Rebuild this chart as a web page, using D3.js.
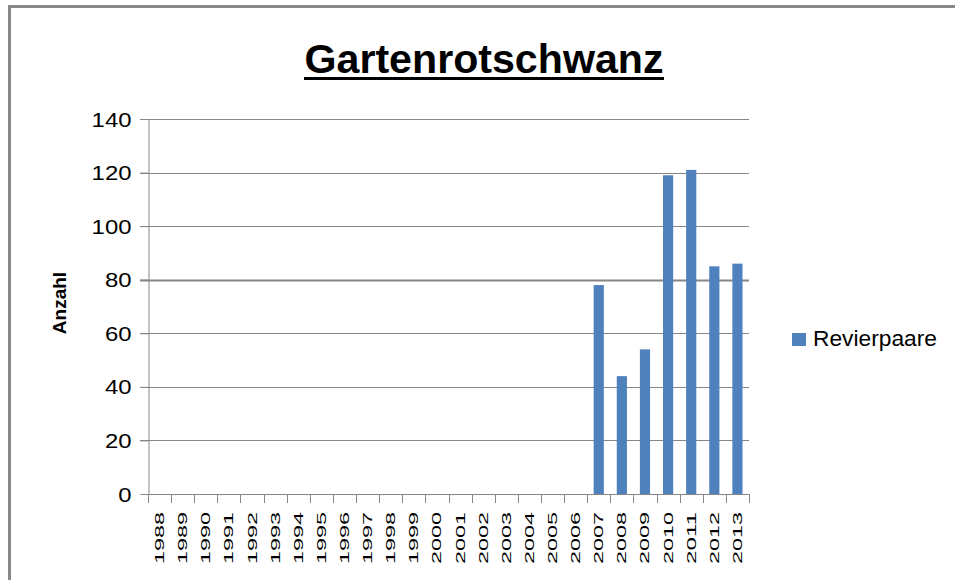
<!DOCTYPE html>
<html>
<head>
<meta charset="utf-8">
<script src="https://cdn.jsdelivr.net/npm/d3@7"></script>
<style>
    body { margin: 0; background: #fff; }
    text { font-family: "Liberation Sans", Arial, sans-serif; }
</style>
</head>
<body>
<div id="chart"></div>
<script>
var years = ["1988", "1989", "1990", "1991", "1992", "1993", "1994", "1995", "1996",
    "1997", "1998", "1999", "2000", "2001", "2002", "2003", "2004", "2005", "2006",
    "2007", "2008", "2009", "2010", "2011", "2012", "2013"];
var revierpaare = [null, null, null, null, null, null, null, null, null,
    null, null, null, null, null, null, null, null, null, null,
    78, 44, 54, 119, 121, 85, 86];
var yTicks = [0, 20, 40, 60, 80, 100, 120, 140];
var seriesName = "Revierpaare";
var chartTitle = "Gartenrotschwanz";
var yTitle = "Anzahl";

(function () {
    var w = 955,
        h = 580;
    var pLeft = 148, pRight = 749, pTop = 119, pBottom = 494;
    var grey = "#868686", blue = "#4f81bd";

    var svg = d3.select("#chart").append("svg")
        .attr("width", w)
        .attr("height", h)
        .attr("viewBox", "0 0 " + w + " " + h);

    // frame (only top and left edge visible)
    svg.append("line").attr("x1", 8).attr("x2", w).attr("y1", 6.5).attr("y2", 6.5)
        .attr("stroke", "#888").attr("stroke-width", 3);
    svg.append("line").attr("x1", 9.5).attr("x2", 9.5).attr("y1", 5).attr("y2", h)
        .attr("stroke", "#888").attr("stroke-width", 3);

    var x = d3.scaleBand().domain(years).range([pLeft, pRight]).paddingInner(0.56).paddingOuter(0.28);
    var y = d3.scaleLinear().domain([0, 140]).range([pBottom, pTop]);

    // gridlines
    svg.append("g").selectAll("line").data(yTicks.slice(1)).enter().append("line")
        .attr("x1", pLeft - 8).attr("x2", pRight)
        .attr("y1", function (d) { return Math.round(y(d)) + 0.5; })
        .attr("y2", function (d) { return Math.round(y(d)) + 0.5; })
        .attr("stroke", grey)
        .attr("stroke-width", function (d) { return d === 80 ? 2 : 1; });

    // y axis
    var yAxis = svg.append("g").attr("transform", "translate(" + (pLeft + 0.5) + ",0)")
        .call(d3.axisLeft(y).tickValues(yTicks).tickSize(8).tickSizeOuter(0));
    yAxis.select(".domain").attr("stroke", grey);
    yAxis.selectAll(".tick line").attr("stroke", grey);
    yAxis.selectAll(".tick text")
        .attr("x", -17)
        .attr("dy", "0.36em")
        .attr("fill", "#000")
        .style("font-size", "19.5px")
        .style("font-family", "'Liberation Sans', Arial, sans-serif")
        .attr("textLength", function (d) { return String(d).length * 13.3; })
        .attr("lengthAdjust", "spacingAndGlyphs");

    // bars
    svg.append("g").selectAll("rect")
        .data(years.map(function (yr, i) { return {year: yr, v: revierpaare[i]}; })
            .filter(function (d) { return d.v !== null; }))
        .enter().append("rect")
        .attr("x", function (d) { return x(d.year); })
        .attr("width", x.bandwidth())
        .attr("y", function (d) { return y(d.v); })
        .attr("height", function (d) { return y(0) - y(d.v); })
        .attr("fill", blue);

    // x axis with ticks at category boundaries
    var bounds = d3.range(years.length + 1).map(function (i) {
        return pLeft + i * (pRight - pLeft) / years.length;
    });
    svg.append("line").attr("x1", pLeft).attr("x2", pRight + 1)
        .attr("y1", pBottom + 0.5).attr("y2", pBottom + 0.5)
        .attr("stroke", grey);
    svg.append("g").selectAll("line").data(bounds).enter().append("line")
        .attr("x1", function (d) { return Math.round(d) + 0.5; })
        .attr("x2", function (d) { return Math.round(d) + 0.5; })
        .attr("y1", pBottom).attr("y2", pBottom + 9)
        .attr("stroke", grey);

    svg.append("g").selectAll("text").data(years).enter().append("text")
        .attr("transform", function (d) {
            return "translate(" + (x(d) + x.bandwidth() / 2 + 4.5) + ",512) rotate(-90)";
        })
        .attr("text-anchor", "end")
        .style("font-size", "12.5px")
        .attr("textLength", 52)
        .attr("lengthAdjust", "spacingAndGlyphs")
        .text(function (d) { return d; });

    // y title
    svg.append("text")
        .attr("transform", "translate(66,303) rotate(-90)")
        .attr("text-anchor", "middle")
        .style("font-size", "19px")
        .style("font-weight", "bold")
        .text(yTitle);

    // title with underline
    svg.append("text")
        .attr("x", 484).attr("y", 73)
        .attr("text-anchor", "middle")
        .style("font-size", "41px")
        .style("font-weight", "bold")
        .attr("textLength", 359)
        .attr("lengthAdjust", "spacingAndGlyphs")
        .text(chartTitle);
    svg.append("rect").attr("x", 304).attr("y", 77).attr("width", 360).attr("height", 3).attr("fill", "#000");

    // legend
    svg.append("rect").attr("x", 792).attr("y", 333).attr("width", 14).attr("height", 13).attr("fill", blue);
    svg.append("text").attr("x", 813).attr("y", 346)
        .style("font-size", "22px")
        .attr("textLength", 124)
        .attr("lengthAdjust", "spacingAndGlyphs")
        .text(seriesName);
})();
</script>
</body>
</html>
